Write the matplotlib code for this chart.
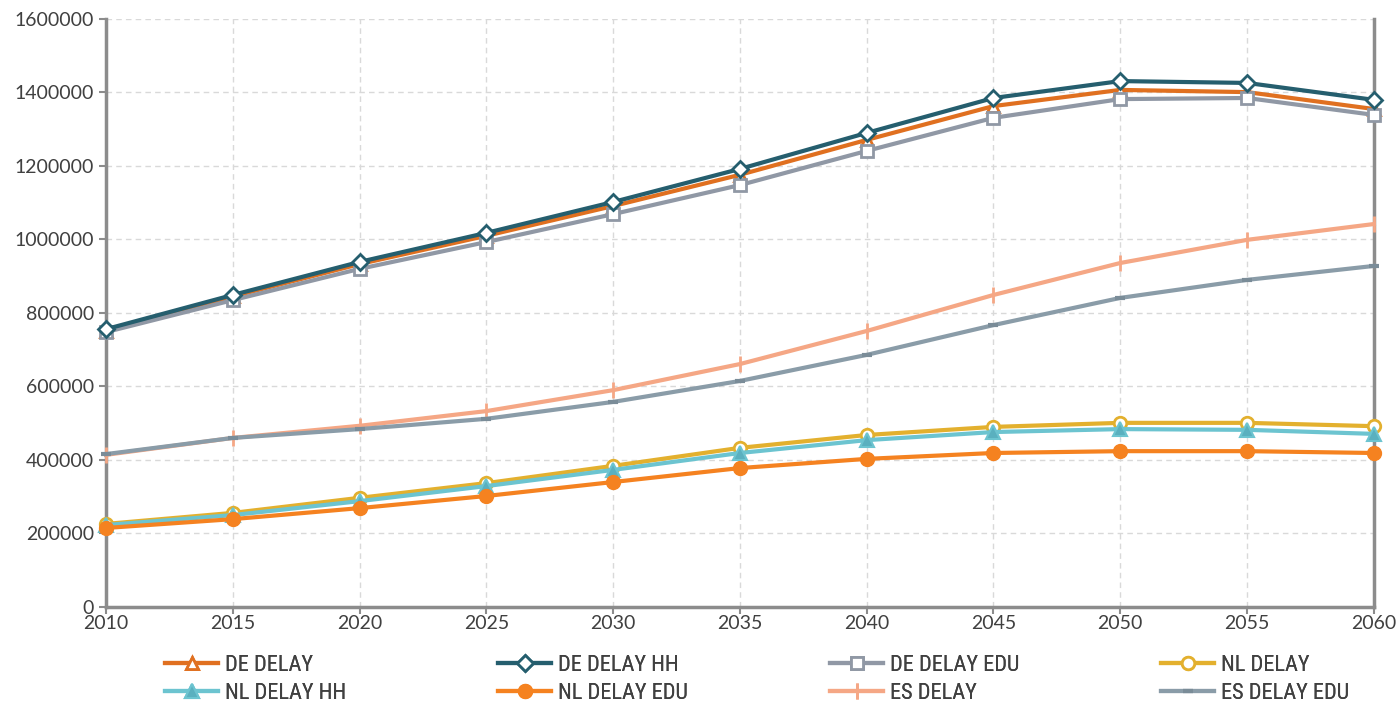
import matplotlib.pyplot as plt
from matplotlib import font_manager
from matplotlib.ticker import FuncFormatter

years = [2010, 2015, 2020, 2025, 2030, 2035, 2040, 2045, 2050, 2055, 2060]

de_delay = [750000, 845000, 933000, 1010000, 1091000, 1176000, 1271000, 1363000, 1407000, 1401000, 1355000]
de_delay_hh = [756000, 849000, 939000, 1018000, 1102000, 1192000, 1290000, 1385000, 1431000, 1426000, 1380000]
de_delay_edu = [748000, 835000, 920000, 993000, 1069000, 1148000, 1241000, 1331000, 1382000, 1385000, 1339000]
nl_delay = [226000, 256000, 297000, 337000, 384000, 433000, 468000, 490000, 501000, 501000, 492000]
nl_delay_hh = [223000, 250000, 288000, 329000, 373000, 419000, 454000, 476000, 484000, 482000, 471000]
nl_delay_edu = [215000, 239000, 269000, 302000, 340000, 378000, 403000, 419000, 424000, 424000, 419000]
es_delay = [414000, 460000, 493000, 533000, 590000, 661000, 751000, 849000, 936000, 999000, 1042000]
es_delay_edu = [416000, 460000, 484000, 512000, 558000, 615000, 686000, 767000, 841000, 890000, 928000]

plt.rcParams['font.family'] = ['Lato', 'DejaVu Sans']

# narrow face for the legend if one is around
names = {f.name for f in font_manager.fontManager.ttflist}
narrow = None
for n in ['Liberation Sans Narrow', 'DejaVu Sans Condensed', 'Roboto Condensed', 'Open Sans Condensed']:
    if n in names:
        narrow = n
        break
if narrow:
    leg_font = font_manager.FontProperties(family=narrow, size=16)
else:
    leg_font = font_manager.FontProperties(family='DejaVu Sans', stretch='condensed', size=15)

fig = plt.figure(figsize=(13.99, 7.03), dpi=100)
ax = fig.add_axes([0.0758, 0.1366, 0.9062, 0.8364])

lw = 3
series = [
    (de_delay, 'DE DELAY', dict(color='#E07020', marker='^', ms=9, mfc='white', mec='#E07020', mew=2, zorder=4)),
    (de_delay_hh, 'DE DELAY HH', dict(color='#255E6E', marker='D', ms=8, mfc='white', mec='#255E6E', mew=2, zorder=5)),
    (de_delay_edu, 'DE DELAY EDU', dict(color='#9098A5', marker='s', ms=9, mfc='white', mec='#9098A5', mew=2, zorder=4)),
    (nl_delay, 'NL DELAY', dict(color='#E3B02E', marker='o', ms=9, mfc='white', mec='#E3B02E', mew=2, zorder=4)),
    (nl_delay_hh, 'NL DELAY HH', dict(color='#6CC4D0', marker='^', ms=10, mfc='#5AB0BF', mec='#6CC4D0', mew=1.5, zorder=4)),
    (nl_delay_edu, 'NL DELAY EDU', dict(color='#F58220', marker='o', ms=10, mfc='#F58220', mec='#F58220', zorder=4)),
    (es_delay, 'ES DELAY', dict(color='#F5A785', marker='|', ms=12, mew=2, zorder=3)),
    (es_delay_edu, 'ES DELAY EDU', dict(color='#8A9CA8', marker='_', ms=7, mew=3, mec='#7A8C98', zorder=3)),
]
handles = []
for vals, name, kw in series:
    h, = ax.plot(years, vals, lw=lw, label=name, clip_on=False, **kw)
    handles.append(h)

ax.set_xlim(2010, 2060)
ax.set_ylim(0, 1600000)
ax.set_xticks(years)
ax.set_yticks(range(0, 1600001, 200000))
ax.yaxis.set_major_formatter(FuncFormatter(lambda v, p: f'{int(v)}'))
ax.grid(True, color='#D9D9D9', ls=(0, (4, 3)), lw=1)
ax.set_axisbelow(True)

for side in ['left', 'bottom', 'right']:
    ax.spines[side].set_color('#8C8C8C')
    ax.spines[side].set_linewidth(2.5)
ax.spines['top'].set_visible(False)
ax.tick_params(axis='both', colors='#8C8C8C', labelcolor='#404040', labelsize=14, length=5, width=1.5)
ax.tick_params(axis='x', pad=1)

# one small legend per column so the columns sit where they should
col_x = [160, 493, 825, 1156]
for i, x0 in enumerate(col_x):
    leg = fig.legend([handles[i], handles[i + 4]], [series[i][1], series[i + 4][1]],
                     loc='lower left', bbox_to_anchor=(x0 / 1399 - 0.006, -0.02),
                     frameon=False, prop=leg_font, handlelength=2.4,
                     labelspacing=0.3, handletextpad=0.3, borderaxespad=0.2,
                     labelcolor='#404040')
    fig.add_artist(leg)

fig.savefig('out.png', dpi=100)
